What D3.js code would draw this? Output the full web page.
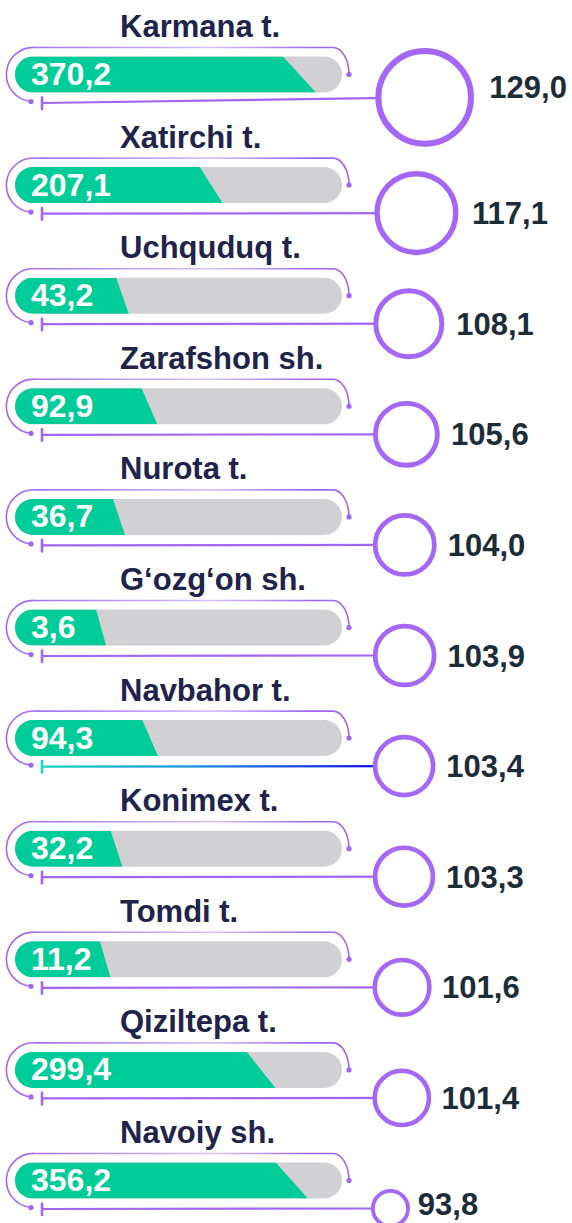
<!DOCTYPE html>
<html>
<head>
<meta charset="utf-8">
<script src="https://cdn.jsdelivr.net/npm/d3@7"></script>
<style>
  html, body { margin: 0; padding: 0; background: #ffffff; }
  svg { display: block; }
  text { font-family: "Liberation Sans", Arial, sans-serif; font-weight: bold; }
</style>
</head>
<body>
<svg id="chart" width="572" height="1223"></svg>
<script>
// Districts, top to bottom
const districts = ["Karmana t.", "Xatirchi t.", "Uchquduq t.", "Zarafshon sh.", "Nurota t.",
  "G\u2018ozg\u2018on sh.", "Navbahor t.", "Konimex t.", "Tomdi t.", "Qiziltepa t.", "Navoiy sh."];
// Value shown inside each bar
const barValues = [370.2, 207.1, 43.2, 92.9, 36.7, 3.6, 94.3, 32.2, 11.2, 299.4, 356.2];
// Growth index shown next to each ring
const circleValues = [129.0, 117.1, 108.1, 105.6, 104.0, 103.9, 103.4, 103.3, 101.6, 101.4, 93.8];
// District whose connector is drawn with the teal-to-blue gradient
const highlighted = ["Navbahor t."];

const rows = districts.map((name, i) => ({ name, bar: barValues[i], idx: circleValues[i] }));

const W = 572, H = 1223;
const svg = d3.select("#chart");
const fmt = v => d3.format(".1f")(v).replace(".", ",");

// Layout constants
const barX = 15, barW = 327, barH = 36;
const green = "#00cc99", grey = "#d1d1d3", purple = "#a266f3";
const titleColor = "#21234a", valueColor = "#1d2d38";

// Scales
const rowY = d3.scalePoint().domain(districts).range([56.5, 1162.5]);   // bar top
const fillW = d3.scaleLinear().domain([0, 400]).range([89, 318]);      // green fill length
const indexFloor = 90;
const radius = d3.scaleSqrt().domain([0, 39]).range([6, 49.3]);         // outer ring radius

const defs = svg.append("defs");

// Pill clip for the bars
defs.append("clipPath").attr("id", "pill")
  .append("rect")
  .attr("x", barX).attr("y", 0)
  .attr("width", barW).attr("height", barH)
  .attr("rx", barH / 2).attr("ry", barH / 2);

// Bracket stroke: purple ends, lighter middle
const bg = defs.append("linearGradient").attr("id", "bracketGrad")
  .attr("gradientUnits", "userSpaceOnUse")
  .attr("x1", 7).attr("x2", 350).attr("y1", 0).attr("y2", 0);
bg.append("stop").attr("offset", "0%").attr("stop-color", "#a066f2");
bg.append("stop").attr("offset", "25%").attr("stop-color", "#b58af6");
bg.append("stop").attr("offset", "60%").attr("stop-color", "#d8c1fc");
bg.append("stop").attr("offset", "88%").attr("stop-color", "#a066f2");
bg.append("stop").attr("offset", "100%").attr("stop-color", "#a066f2");

const g = svg.selectAll("g.row").data(rows).join("g")
  .attr("class", "row")
  .attr("transform", d => `translate(0,${rowY(d.name)})`);

// Geometry of each ring; the largest rings are lifted a little, with their label
rows.forEach(d => {
  d.r = radius(d.idx - indexFloor);
  d.sw = 2.5 + 0.07 * d.r;
  d.cx = 368 + d.r * 1.15;
  const lift = Math.max(0, d.r - 42);
  d.cy = 46 - lift * 0.7;
  // keep the label clear of the bottom edge
  d.ly = Math.min(46 - lift * 2.2, H - 19 - rowY(d.name));
});

// Title
g.append("text")
  .attr("x", 120).attr("y", -19.5)
  .attr("font-size", 31)
  .attr("fill", titleColor)
  .text(d => d.name);

// Bracket around the bar
g.append("path")
  .attr("d", `M31,45 A27,27 0 0 1 36,-9 L333,-9 A16,27 0 0 1 349,18`)
  .attr("fill", "none")
  .attr("stroke", "url(#bracketGrad)")
  .attr("stroke-width", 1.6);
g.append("circle").attr("cx", 31).attr("cy", 45).attr("r", 2.6).attr("fill", "#a066f2");
g.append("circle").attr("cx", 349).attr("cy", 18).attr("r", 2.6).attr("fill", "#a066f2");

// Bar track and fill
g.append("rect")
  .attr("x", barX).attr("y", 0)
  .attr("width", barW).attr("height", barH)
  .attr("rx", barH / 2).attr("ry", barH / 2)
  .attr("fill", grey);
g.append("path")
  .attr("clip-path", "url(#pill)")
  .attr("fill", green)
  .attr("d", d => {
    const w = fillW(d.bar);
    return `M${barX},0 L${barX + 0.89 * w},0 L${barX + w},${barH} L${barX},${barH} Z`;
  });
g.append("text")
  .attr("x", 31).attr("y", 28.5)
  .attr("font-size", 32)
  .attr("fill", "#ffffff")
  .text(d => fmt(d.bar));

// Connector gradients for highlighted rows
rows.forEach((d, i) => {
  if (highlighted.includes(d.name)) {
    const lg = defs.append("linearGradient").attr("id", "conn" + i)
      .attr("gradientUnits", "userSpaceOnUse")
      .attr("x1", 42).attr("x2", d.cx - d.r).attr("y1", 0).attr("y2", 0);
    lg.append("stop").attr("offset", "0%").attr("stop-color", "#17d6bd");
    lg.append("stop").attr("offset", "45%").attr("stop-color", "#1690e0");
    lg.append("stop").attr("offset", "100%").attr("stop-color", "#1414e0");
  }
});
const connColor = (d, i) => highlighted.includes(d.name) ? `url(#conn${i})` : purple;
const tickColor = d => highlighted.includes(d.name) ? "#17d6bd" : purple;

// Connector line from the bar to the ring
g.append("line")
  .attr("x1", 42).attr("y1", 46.5)
  .attr("x2", d => d.cx).attr("y2", d => d.cy)
  .attr("stroke", connColor)
  .attr("stroke-width", 2.2);
g.append("line")
  .attr("x1", 42).attr("x2", 42)
  .attr("y1", 41).attr("y2", 52.5)
  .attr("stroke", tickColor)
  .attr("stroke-width", 2.6)
  .attr("stroke-linecap", "round");

// Ring
g.append("circle")
  .attr("cx", d => d.cx).attr("cy", d => d.cy)
  .attr("r", d => d.r - d.sw / 2)
  .attr("fill", "#ffffff")
  .attr("stroke", "#a567f5")
  .attr("stroke-width", d => d.sw);

// Ring value
g.append("text")
  .attr("x", d => d.cx + d.r + 3 + 0.25 * d.r)
  .attr("y", d => d.ly)
  .attr("dy", "0.36em")
  .attr("font-size", 31)
  .attr("fill", valueColor)
  .text(d => fmt(d.idx));
</script>
</body>
</html>
